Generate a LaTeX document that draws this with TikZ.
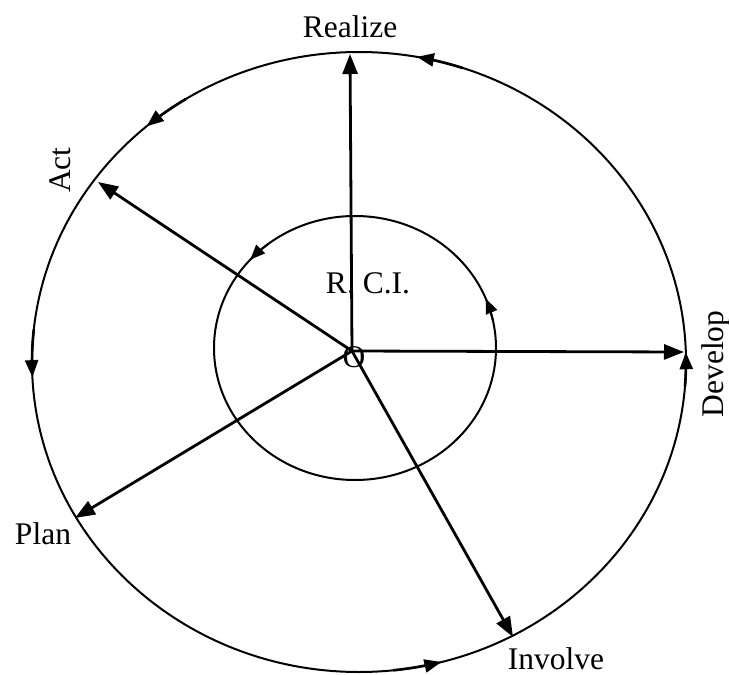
\documentclass[tikz,border=0pt]{standalone}
\usepackage{fontspec}
\setmainfont{Liberation Serif}
\usetikzlibrary{arrows.meta}
\begin{document}
\begin{tikzpicture}[x=1pt,y=-1pt,
  ring/.style={line width=2pt},
  ray/.style={line width=2.8pt,-{Triangle[length=20pt,width=15pt]}},
  flow/.style={line width=2.6pt,-{Triangle[length=17pt,width=13pt]}},
  iflow/.style={line width=2pt,-{Triangle[length=15pt,width=12pt]}},
  lbl/.style={font=\fontsize{31.5}{36}\selectfont, inner sep=0pt, anchor=base}]
\useasboundingbox (0,0) rectangle (729,675);
% circles
\draw[ring] (359,362) ellipse [x radius=327pt, y radius=310pt];
\draw[ring] (355,348) ellipse [x radius=141pt, y radius=132pt];
% labels
\node[lbl] (realize) at (350,37) {Realize};
\node[lbl,rotate=90] (act) at (70,170) {Act};
\node[lbl] (plan) at (43,544) {Plan};
\node[lbl] (involve) at (556,669) {Involve};
\node[lbl,rotate=90] (develop) at (723,364) {Develop};
\node[lbl] (rci) at (368,293) {R. C.I.};
\node[lbl] (O) at (354,367) {O};
% centre and ray ends
\coordinate (c) at (352,351);
\coordinate (tR) at (350,54);
\coordinate (tD) at (684,352);
\coordinate (tA) at (98,182);
\coordinate (tP) at (75,518);
\coordinate (tI) at (513,637);
\draw[ray] (c) -- (tR);
\draw[ray] (c) -- (tD);
\draw[ray] (c) -- (tA);
\draw[ray] (c) -- (tP);
\draw[ray] (c) -- (tI);
% flow arrows on the outer circle
\draw[flow] plot[domain=71.5:79.8, samples=12] ({359+327*cos(\x)},{362-310*sin(\x)});
\draw[flow] plot[domain=122:130.5, samples=12] ({359+327*cos(\x)},{362-310*sin(\x)});
\draw[flow] plot[domain=174:182.8, samples=12] ({359+327*cos(\x)},{362-310*sin(\x)});
\draw[flow] plot[domain=276:284.6, samples=12] ({359+327*cos(\x)},{362-310*sin(\x)});
\draw[flow] plot[domain=-4.5:1.8, samples=12] ({359+327*cos(\x)},{362-310*sin(\x)});
% flow arrows on the inner circle
\draw[iflow] plot[domain=128:138, samples=12] ({355+141*cos(\x)},{348-132*sin(\x)});
\draw[iflow] plot[domain=12:22, samples=12] ({355+141*cos(\x)},{348-132*sin(\x)});
\end{tikzpicture}
\end{document}
